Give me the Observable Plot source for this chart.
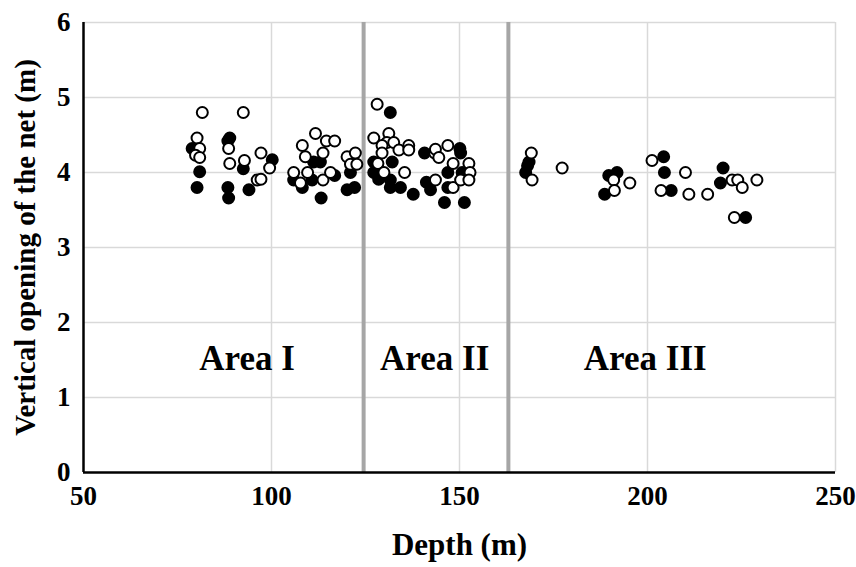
<!DOCTYPE html>
<html>
<head>
<meta charset="utf-8">
<script src="https://cdn.jsdelivr.net/npm/d3@7"></script>
<script src="https://cdn.jsdelivr.net/npm/@observablehq/plot@0.6"></script>
<style>
  html, body { margin: 0; padding: 0; background: #fff; }
  #chart svg g[aria-label="x-axis label"] text { font-size: 31px; }
  #chart svg g[aria-label="y-axis label"] text { font-size: 29px; }
</style>
</head>
<body>
<div id="chart"></div>
<script>
// Filled circles (series 1)
const filledDepth = [78.9, 80.9, 80.2, 88.9, 88.4, 88.4, 88.6, 92.5, 94.0, 100.2, 111.2, 113.0, 105.9, 108.2, 110.8, 116.8, 113.2, 120.1, 122.1, 121.0,
  131.6, 127.2, 132.1, 127.2, 128.5, 131.6, 131.6, 134.3, 137.7, 140.7, 141.2, 142.3, 150.1, 150.3, 146.9, 146.9, 150.7, 146.0, 151.3,
  168.5, 168.1, 167.6, 191.9, 189.7, 188.6, 204.3, 204.5, 206.3, 220.1, 219.4, 226.1];
const filledOpening = [4.32, 4.01, 3.80, 4.46, 4.42, 3.80, 3.66, 4.05, 3.77, 4.17, 4.14, 4.14, 3.90, 3.80, 3.90, 3.96, 3.66, 3.77, 3.80, 4.00,
  4.80, 4.14, 4.14, 4.00, 3.91, 3.90, 3.80, 3.80, 3.71, 4.26, 3.87, 3.77, 4.32, 4.26, 4.00, 3.80, 4.00, 3.60, 3.60,
  4.14, 4.09, 4.00, 4.00, 3.96, 3.71, 4.21, 4.00, 3.76, 4.06, 3.86, 3.40];

// Open circles (series 2)
const openDepth = [81.6, 92.5, 80.2, 80.9, 79.8, 80.9, 88.6, 88.9, 92.8, 97.2, 96.2, 97.2, 99.5, 108.2, 111.7, 114.6, 116.8, 109.0, 113.7, 105.9, 107.7, 109.6, 113.7, 115.7, 120.1, 122.3, 121.0, 122.7,
  128.1, 127.2, 131.2, 130.7, 132.5, 129.4, 133.9, 136.5, 136.5, 129.4, 128.3, 129.9, 135.4, 143.4, 143.6, 144.5, 143.6, 146.9, 148.3, 148.3, 150.3, 152.5, 152.8, 152.5,
  169.1, 169.3, 177.3, 191.0, 195.3, 191.2, 201.2, 203.6, 210.1, 211.0, 216.0, 222.5, 224.0, 225.2, 229.1, 223.1];
const openOpening = [4.80, 4.80, 4.46, 4.32, 4.23, 4.20, 4.32, 4.12, 4.16, 4.26, 3.90, 3.91, 4.06, 4.36, 4.52, 4.42, 4.42, 4.21, 4.26, 4.00, 3.86, 4.00, 3.90, 4.00, 4.21, 4.26, 4.11, 4.11,
  4.91, 4.46, 4.52, 4.40, 4.40, 4.36, 4.30, 4.36, 4.30, 4.26, 4.12, 4.00, 4.00, 4.26, 4.31, 4.20, 3.90, 4.36, 4.12, 3.80, 3.90, 4.12, 4.00, 3.90,
  4.26, 3.90, 4.06, 3.90, 3.86, 3.76, 4.16, 3.76, 4.00, 3.71, 3.71, 3.90, 3.90, 3.80, 3.90, 3.40];

// Area boundaries and labels
const areaBounds = [124.5, 163];
const areaNames = ["Area I", "Area II", "Area III"];
const areaLabelDepth = [93.5, 143.4, 199.4];
const areaLabelOpening = [1.52, 1.52, 1.52];

const xTicks = [50, 100, 150, 200, 250];
const yTicks = [0, 1, 2, 3, 4, 5, 6];

const filled = filledDepth.map((d, i) => ({depth: d, opening: filledOpening[i]}));
const open = openDepth.map((d, i) => ({depth: d, opening: openOpening[i]}));
const areas = areaNames.map((n, i) => ({name: n, depth: areaLabelDepth[i], opening: areaLabelOpening[i]}));

const chart = Plot.plot({
  width: 856,
  height: 567,
  marginLeft: 83,
  marginRight: 21,
  marginTop: 22,
  marginBottom: 95,
  style: {fontFamily: "'Liberation Serif', 'Times New Roman', serif", fontWeight: "bold", fontSize: "26px", background: "#fff", color: "#000"},
  x: {domain: [50, 250]},
  y: {domain: [0, 6]},
  marks: [
    Plot.gridY(yTicks.filter(d => d > 0), {stroke: "#d9d9d9", strokeOpacity: 1, strokeWidth: 1.5}),
    Plot.gridX(xTicks.filter(d => d > 50), {stroke: "#d9d9d9", strokeOpacity: 1, strokeWidth: 1.5}),
    Plot.ruleX(areaBounds, {y1: 0, y2: 6, stroke: "#a6a6a6", strokeWidth: 4}),
    Plot.axisX({ticks: xTicks, tickSize: 0, tickPadding: 13, fontSize: 27, fontWeight: "bold", tickFormat: d => String(d), label: "Depth (m)", labelAnchor: "center", labelArrow: "none", labelOffset: 82}),
    Plot.axisY({ticks: yTicks, tickSize: 0, tickPadding: 13, fontSize: 27, fontWeight: "bold", tickFormat: d => String(d), label: "Vertical opening of the net (m)", labelAnchor: "center", labelArrow: "none", labelOffset: 69}),
    Plot.ruleY([0], {stroke: "#000", strokeWidth: 2.5}),
    Plot.ruleX([50], {stroke: "#000", strokeWidth: 2.5}),
    Plot.text(areas, {x: "depth", y: "opening", text: "name", fontSize: 35, fontWeight: "bold", fill: "#000"}),
    Plot.dot(filled, {x: "depth", y: "opening", r: 5.5, fill: "#000", stroke: "#000", strokeWidth: 2}),
    Plot.dot(open, {x: "depth", y: "opening", r: 5.5, fill: "#fff", stroke: "#000", strokeWidth: 2})
  ]
});
document.getElementById("chart").appendChild(chart);
</script>
</body>
</html>
